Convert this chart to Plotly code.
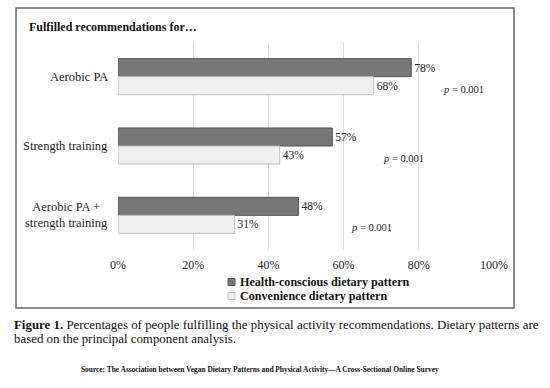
import plotly.graph_objects as go

categories = ["Aerobic PA", "Strength training", "Aerobic PA +<br>strength training"]
health_conscious = [0.78, 0.57, 0.48]
convenience = [0.68, 0.43, 0.31]
p_labels = ["0.001", "0.001", "0.001"]
p_label_x = [0.92, 0.76, 0.675]
series_names = ["Health-conscious dietary pattern", "Convenience dietary pattern"]
x_ticks = [0, 0.2, 0.4, 0.6, 0.8, 1.0]

FONT = "Liberation Serif"
W, H = 550, 388
L, R, T, B = 118, 56, 42, 138
PW, PH = W - L - R, H - T - B

DARK = dict(color="#777777", line=dict(color="#555555", width=1))
LIGHT = dict(color="#efefef", line=dict(color="#bdbdbd", width=1))

def px(xp):
    return (xp - L) / PW

def py(yp):
    return 1 - (yp - T) / PH

fig = go.Figure()
for vals, name, mk in [(health_conscious, series_names[0], DARK), (convenience, series_names[1], LIGHT)]:
    fig.add_trace(go.Bar(
        y=categories, x=vals, orientation="h", name=name, showlegend=False,
        marker=mk,
        text=[f"{v*100:.0f}%" for v in vals], textposition="outside",
        textfont=dict(family=FONT, size=11.5, color="#222"), cliponaxis=False,
    ))

annotations = []
for i, (c, p, xpos) in enumerate(zip(categories, p_labels, p_label_x)):
    annotations.append(dict(
        x=xpos, y=i + 0.18, xref="x", yref="y", text=f"<i>p</i> = {p}",
        showarrow=False, font=dict(family=FONT, size=10.5, color="#222"),
    ))
    annotations.append(dict(
        x=0, y=c, xref="paper", yref="y", text=c, xanchor="right", xshift=-8,
        align="center", showarrow=False, font=dict(family=FONT, size=12.5, color="#222"),
    ))

# legend (swatch + label), laid out below the axis
legend_rows = [282, 296]
for name, mk, yrow in zip(series_names, [DARK, LIGHT], legend_rows):
    fig.add_shape(type="rect", xref="paper", yref="paper",
                  x0=px(228), x1=px(235), y0=py(yrow + 3.5), y1=py(yrow - 3.5),
                  fillcolor=mk["color"], line=dict(color=mk["line"]["color"], width=1))
    annotations.append(dict(
        x=px(238), y=py(yrow), xref="paper", yref="paper", xanchor="left", yanchor="middle",
        text=f"<b>{name}</b>", showarrow=False,
        font=dict(family=FONT, size=12.1, color="#111"),
    ))

annotations += [
    dict(x=px(27), y=py(27), xref="paper", yref="paper", xanchor="left", yanchor="middle",
         text="<b>Fulfilled recommendations for…</b>", showarrow=False,
         font=dict(family=FONT, size=12, color="#111")),
    dict(x=px(12), y=py(325), xref="paper", yref="paper", xanchor="left", yanchor="middle",
         text="<b>Figure 1.</b> Percentages of people fulfilling the physical activity recommendations. Dietary patterns are",
         showarrow=False, font=dict(family=FONT, size=12.9, color="#111")),
    dict(x=px(12), y=py(339), xref="paper", yref="paper", xanchor="left", yanchor="middle",
         text="based on the principal component analysis.",
         showarrow=False, font=dict(family=FONT, size=12.9, color="#111")),
    dict(x=px(260), y=py(369), xref="paper", yref="paper", xanchor="center", yanchor="middle",
         text="<b>Source: The Association between Vegan Dietary Patterns and Physical Activity—A Cross-Sectional Online Survey</b>",
         showarrow=False, font=dict(family=FONT, size=7.4, color="#111")),
]

fig.add_shape(type="rect", xref="paper", yref="paper",
              x0=px(16), x1=px(514), y0=py(308), y1=py(8),
              line=dict(color="#666666", width=1.5), layer="below")

fig.update_layout(
    width=W, height=H, margin=dict(l=L, r=R, t=T, b=B),
    paper_bgcolor="white", plot_bgcolor="white",
    barmode="group", bargap=0.48, bargroupgap=0,
    font=dict(family=FONT, color="#222"),
    showlegend=False,
    annotations=annotations,
    xaxis=dict(range=[0, 1], tickvals=x_ticks, tickformat=".0%", showgrid=True,
               gridcolor="#d9d9d9", gridwidth=1, zeroline=False, showline=False,
               ticklabelstandoff=6,
               tickfont=dict(family=FONT, size=12, color="#222"), fixedrange=True),
    yaxis=dict(autorange="reversed", showticklabels=False, showgrid=False,
               zeroline=False, showline=False, fixedrange=True),
)

fig.write_html("out.html", config={"displayModeBar": False},
               post_script="document.body.style.margin='0';")
